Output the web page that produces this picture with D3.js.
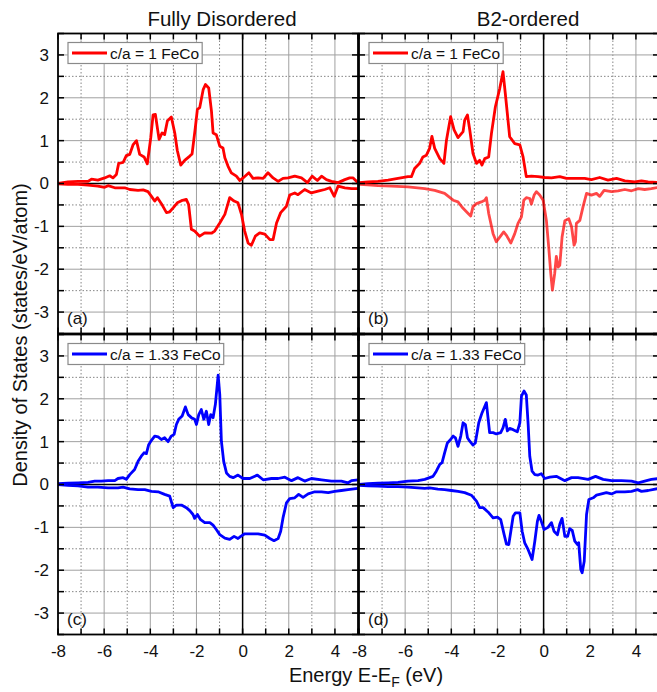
<!DOCTYPE html>
<html>
<head>
<meta charset="utf-8">
<script src="https://cdn.jsdelivr.net/npm/d3@7/dist/d3.min.js"></script>
<style>
  html, body { margin: 0; padding: 0; background: #fff; }
  svg { display: block; font-family: "Liberation Sans", Arial, sans-serif; }
</style>
</head>
<body>
<svg id="chart" width="657" height="692"></svg>
<script>
// ---------------- DATA ----------------
const xTickLabels = [-8, -6, -4, -2, 0, 2, 4];
const yTickLabels = [-3, -2, -1, 0, 1, 2, 3];
const columnTitles = ["Fully Disordered", "B2-ordered"];
const legendLabels = ["c/a = 1 FeCo", "c/a = 1 FeCo", "c/a = 1.33 FeCo", "c/a = 1.33 FeCo"];
const panelLabels = ["(a)", "(b)", "(c)", "(d)"];

// (a) Fully disordered, c/a = 1 : spin up / spin down  [energy eV, DOS]
const aUp = [[-8,0],[-7.57,0.04],[-7.13,0.05],[-6.7,0.05],[-6.55,0.1],[-6.27,0.08],[-5.98,0.13],[-5.76,0.18],[-5.62,0.13],[-5.47,0.21],[-5.37,0.47],[-5.18,0.49],[-5.04,0.65],[-4.89,0.68],[-4.75,0.9],[-4.6,1.0],[-4.46,0.68],[-4.27,0.62],[-4.13,0.46],[-3.98,1.07],[-3.88,1.6],[-3.78,1.61],[-3.62,1.03],[-3.49,1.18],[-3.38,1.14],[-3.26,1.46],[-3.09,1.55],[-2.94,1.18],[-2.83,0.77],[-2.68,0.43],[-2.51,0.54],[-2.29,0.64],[-2.19,0.69],[-2.05,1.3],[-1.96,1.73],[-1.86,1.77],[-1.71,2.19],[-1.61,2.31],[-1.47,2.23],[-1.35,1.69],[-1.28,1.18],[-1.14,1.14],[-0.99,0.87],[-0.85,0.83],[-0.77,0.6],[-0.63,0.4],[-0.49,0.25],[-0.27,0.17],[-0.12,0.07],[0.02,0.13],[0.27,0.25],[0.45,0.12],[0.67,0.13],[0.89,0.12],[1.1,0.25],[1.32,0.13],[1.54,0.05],[1.75,0.12],[1.97,0.13],[2.26,0.17],[2.55,0.13],[2.81,0.02],[3.01,0.17],[3.24,0.07],[3.42,0.17],[3.63,0.09],[3.85,0.05],[4.14,0.02],[4.43,0.09],[4.64,0.13],[4.79,0.13],[5.0,0.02]];
const aDn = [[-8,-0.01],[-7.57,-0.02],[-7.13,-0.02],[-6.7,-0.04],[-6.27,-0.06],[-5.98,-0.09],[-5.83,-0.05],[-5.54,-0.1],[-5.11,-0.1],[-4.89,-0.14],[-4.53,-0.16],[-4.31,-0.15],[-4.1,-0.19],[-3.95,-0.3],[-3.81,-0.41],[-3.69,-0.33],[-3.52,-0.47],[-3.3,-0.68],[-3.16,-0.66],[-3.01,-0.57],[-2.83,-0.45],[-2.65,-0.4],[-2.44,-0.37],[-2.34,-0.49],[-2.22,-1.07],[-2.08,-1.11],[-1.86,-1.23],[-1.64,-1.15],[-1.35,-1.16],[-1.21,-1.11],[-0.99,-0.92],[-0.77,-0.72],[-0.56,-0.33],[-0.37,-0.41],[-0.2,-0.45],[-0.05,-0.72],[0.09,-1.11],[0.24,-1.39],[0.38,-1.44],[0.55,-1.23],[0.74,-1.15],[0.96,-1.18],[1.18,-1.31],[1.32,-1.31],[1.47,-0.92],[1.65,-0.68],[1.9,-0.53],[2.04,-0.27],[2.26,-0.22],[2.4,-0.26],[2.69,-0.14],[2.98,-0.22],[3.27,-0.18],[3.56,-0.14],[3.78,-0.1],[3.97,-0.3],[4.14,-0.06],[4.43,-0.1],[4.72,-0.12],[5.0,-0.12]];

// (b) B2-ordered, c/a = 1
const bUp = [[-8,0.02],[-7.61,0.04],[-7.18,0.05],[-6.74,0.08],[-6.31,0.12],[-5.88,0.16],[-5.73,0.16],[-5.59,0.35],[-5.37,0.47],[-5.23,0.62],[-5.08,0.66],[-4.94,0.82],[-4.84,1.1],[-4.72,0.82],[-4.5,0.58],[-4.32,0.47],[-4.21,1.01],[-4.03,1.56],[-3.88,1.25],[-3.71,1.07],[-3.49,1.21],[-3.42,1.48],[-3.3,1.6],[-3.2,1.25],[-3.06,0.7],[-2.91,0.47],[-2.77,0.54],[-2.67,0.43],[-2.55,0.58],[-2.38,0.62],[-2.26,1.17],[-2.09,1.79],[-1.9,2.22],[-1.76,2.61],[-1.66,2.1],[-1.47,1.09],[-1.25,0.93],[-1.03,0.9],[-0.89,0.62],[-0.75,0.16],[-0.53,0.17],[-0.24,0.16],[0.05,0.14],[0.34,0.13],[0.7,0.16],[0.99,0.12],[1.35,0.12],[1.78,0.12],[2.07,0.09],[2.43,0.14],[2.79,0.08],[3.16,0.12],[3.52,0.06],[3.95,0.04],[4.24,0.06],[4.53,0.04],[5.0,0.02]];
const bDn = [[-8,-0.02],[-7.61,-0.03],[-7.18,-0.05],[-6.6,-0.06],[-5.88,-0.08],[-5.15,-0.12],[-4.72,-0.16],[-4.29,-0.23],[-3.92,-0.39],[-3.71,-0.43],[-3.49,-0.58],[-3.27,-0.7],[-3.16,-0.76],[-3.06,-0.54],[-2.91,-0.47],[-2.7,-0.43],[-2.55,-0.39],[-2.48,-0.33],[-2.38,-0.7],[-2.19,-1.17],[-2.05,-1.36],[-1.9,-1.25],[-1.73,-1.13],[-1.61,-1.21],[-1.42,-1.39],[-1.25,-1.17],[-1.11,-0.93],[-0.96,-0.78],[-0.86,-0.39],[-0.75,-0.33],[-0.6,-0.35],[-0.53,-0.48],[-0.41,-0.27],[-0.31,-0.19],[-0.17,-0.27],[-0.02,-0.39],[0.12,-0.86],[0.22,-1.48],[0.31,-2.1],[0.38,-2.49],[0.48,-2.1],[0.55,-1.7],[0.63,-1.95],[0.7,-1.91],[0.8,-1.25],[0.92,-0.87],[1.09,-0.82],[1.21,-1.01],[1.32,-1.44],[1.38,-1.36],[1.42,-0.93],[1.57,-0.86],[1.71,-0.54],[1.86,-0.23],[2.07,-0.27],[2.29,-0.23],[2.43,-0.3],[2.62,-0.16],[2.94,-0.19],[3.23,-0.17],[3.52,-0.14],[3.81,-0.17],[4.1,-0.12],[4.38,-0.14],[4.67,-0.12],[5.0,-0.09]];

// (c) Fully disordered, c/a = 1.33
const cUp = [[-8,0.02],[-7.57,0.03],[-7.13,0.04],[-6.7,0.05],[-6.41,0.08],[-6.12,0.08],[-5.83,0.09],[-5.54,0.09],[-5.4,0.14],[-5.18,0.16],[-5.04,0.12],[-4.89,0.23],[-4.68,0.35],[-4.53,0.54],[-4.39,0.66],[-4.27,0.74],[-4.17,0.72],[-4.07,0.93],[-3.95,1.03],[-3.81,1.13],[-3.66,1.11],[-3.52,1.05],[-3.38,1.09],[-3.23,1.0],[-3.09,1.13],[-2.97,1.17],[-2.87,1.4],[-2.77,1.52],[-2.62,1.6],[-2.48,1.81],[-2.36,1.63],[-2.22,1.56],[-2.08,1.52],[-2.0,1.4],[-1.9,1.63],[-1.79,1.75],[-1.68,1.52],[-1.57,1.71],[-1.47,1.4],[-1.38,1.63],[-1.28,1.56],[-1.18,1.87],[-1.06,2.55],[-0.99,2.1],[-0.92,1.01],[-0.82,0.54],[-0.7,0.27],[-0.56,0.19],[-0.41,0.16],[-0.2,0.22],[0.02,0.14],[0.31,0.14],[0.64,0.22],[0.89,0.11],[1.25,0.14],[1.54,0.14],[1.83,0.17],[2.12,0.09],[2.4,0.16],[2.69,0.08],[2.98,0.14],[3.42,0.11],[3.85,0.08],[4.28,0.08],[4.57,0.04],[4.72,0.09],[5.0,0.11]];
const cDn = [[-8,0],[-7.57,-0.02],[-7.13,-0.03],[-6.7,-0.06],[-6.27,-0.06],[-5.83,-0.08],[-5.4,-0.08],[-5.18,-0.06],[-4.89,-0.1],[-4.53,-0.12],[-4.24,-0.12],[-3.95,-0.16],[-3.66,-0.17],[-3.38,-0.23],[-3.16,-0.27],[-3.01,-0.54],[-2.87,-0.48],[-2.65,-0.48],[-2.44,-0.54],[-2.29,-0.61],[-2.15,-0.7],[-2.08,-0.79],[-1.96,-0.7],[-1.82,-0.82],[-1.64,-0.89],[-1.42,-0.89],[-1.28,-0.95],[-1.14,-1.05],[-0.99,-1.17],[-0.77,-1.25],[-0.56,-1.28],[-0.37,-1.21],[-0.2,-1.26],[-0.08,-1.21],[0.09,-1.15],[0.38,-1.15],[0.67,-1.15],[0.96,-1.18],[1.18,-1.26],[1.36,-1.31],[1.54,-1.26],[1.65,-1.09],[1.75,-0.78],[1.9,-0.43],[2.04,-0.33],[2.26,-0.31],[2.43,-0.23],[2.62,-0.3],[2.84,-0.22],[3.13,-0.17],[3.42,-0.17],[3.71,-0.19],[3.99,-0.16],[4.28,-0.14],[4.57,-0.12],[5.0,-0.09]];

// (d) B2-ordered, c/a = 1.33
const dUp = [[-8,0],[-7.61,0.02],[-7.18,0.03],[-6.74,0.04],[-6.31,0.05],[-5.88,0.08],[-5.44,0.09],[-5.15,0.12],[-4.94,0.16],[-4.79,0.19],[-4.65,0.31],[-4.5,0.47],[-4.4,0.51],[-4.29,0.74],[-4.17,0.97],[-4.03,1.05],[-3.92,1.13],[-3.82,1.09],[-3.71,0.89],[-3.59,1.13],[-3.49,1.44],[-3.39,1.4],[-3.3,1.09],[-3.2,1.01],[-3.06,0.92],[-2.96,0.97],[-2.81,1.44],[-2.67,1.67],[-2.48,1.91],[-2.41,1.56],[-2.34,1.21],[-2.19,1.21],[-2.05,1.18],[-1.86,1.21],[-1.76,1.32],[-1.66,1.52],[-1.57,1.25],[-1.47,1.31],[-1.32,1.28],[-1.14,1.23],[-1.03,1.44],[-0.96,2.06],[-0.85,2.18],[-0.75,2.09],[-0.67,1.4],[-0.6,0.66],[-0.5,0.31],[-0.38,0.23],[-0.24,0.22],[-0.1,0.25],[0.05,0.14],[0.27,0.17],[0.55,0.19],[0.92,0.09],[1.21,0.16],[1.49,0.16],[1.93,0.12],[2.25,0.19],[2.58,0.12],[2.94,0.09],[3.37,0.09],[3.81,0.08],[4.1,0.04],[4.38,0.08],[4.67,0.12],[5.0,0.14]];
const dDn = [[-8,-0.02],[-7.61,-0.03],[-7.18,-0.04],[-6.74,-0.05],[-6.31,-0.05],[-5.88,-0.06],[-5.44,-0.08],[-5.15,-0.09],[-4.94,-0.08],[-4.58,-0.11],[-4.29,-0.12],[-4.0,-0.14],[-3.71,-0.16],[-3.42,-0.19],[-3.13,-0.25],[-2.91,-0.39],[-2.77,-0.54],[-2.62,-0.54],[-2.41,-0.64],[-2.19,-0.78],[-2.0,-0.76],[-1.86,-0.82],[-1.71,-1.17],[-1.61,-1.39],[-1.51,-1.4],[-1.42,-1.09],[-1.32,-0.74],[-1.22,-0.66],[-1.03,-0.66],[-0.93,-1.09],[-0.82,-1.36],[-0.67,-1.52],[-0.5,-1.75],[-0.38,-1.32],[-0.27,-0.86],[-0.2,-0.72],[-0.1,-0.86],[0.02,-1.05],[0.19,-1.0],[0.34,-0.89],[0.45,-1.09],[0.6,-1.17],[0.7,-0.93],[0.8,-0.79],[0.92,-1.21],[1.04,-1.21],[1.13,-1.03],[1.24,-1.07],[1.35,-1.32],[1.47,-1.4],[1.52,-1.36],[1.61,-1.98],[1.67,-2.06],[1.76,-1.79],[1.86,-0.7],[1.96,-0.35],[2.15,-0.31],[2.29,-0.25],[2.51,-0.22],[2.72,-0.19],[2.94,-0.22],[3.16,-0.17],[3.52,-0.17],[3.81,-0.16],[4.07,-0.12],[4.24,-0.16],[4.53,-0.14],[5.0,-0.09]];

// ---------------- LAYOUT ----------------
const svg = d3.select("#chart");
const W = 300, H = 300;
const colX = [58, 359];
const rowY = [33.5, 334.5];

const x = d3.scaleLinear().domain([-8, 5]).range([0, W]);
const y = d3.scaleLinear().domain([-3.5, 3.5]).range([H, 0]);

const panels = [
  { col: 0, row: 0, up: aUp, dn: aDn, color: "#ff0000", dnOpacity: 1 },
  { col: 1, row: 0, up: bUp, dn: bDn, color: "#ff0000", dnOpacity: 0.72 },
  { col: 0, row: 1, up: cUp, dn: cDn, color: "#0000ff", dnOpacity: 1 },
  { col: 1, row: 1, up: dUp, dn: dDn, color: "#0000ff", dnOpacity: 1 }
];

const xMajor = [-6, -4, -2, 2, 4];
const xMinor = [-7, -5, -3, -1, 1, 3];
const yMajor = [-3, -2, -1, 1, 2, 3];
const yMinor = [-2.5, -1.5, -0.5, 0.5, 1.5, 2.5];
const yTickAll = d3.range(-3.5, 3.51, 0.5);
const xTickAll = d3.range(-8, 5.01, 1);

const line = d3.line().x(d => x(d[0])).y(d => y(d[1]));

const defs = svg.append("defs");

panels.forEach((p, i) => {
  const g = svg.append("g").attr("transform", `translate(${colX[p.col]},${rowY[p.row]})`);
  defs.append("clipPath").attr("id", "clip" + i)
    .append("rect").attr("x", 0).attr("y", 0).attr("width", W).attr("height", H);

  // grid
  const grid = g.append("g");
  grid.selectAll(".gxM").data(xMajor).join("line")
    .attr("x1", d => x(d)).attr("x2", d => x(d)).attr("y1", 0).attr("y2", H)
    .attr("stroke", "#a0a0a0").attr("stroke-width", 1);
  grid.selectAll(".gxm").data(xMinor).join("line")
    .attr("x1", d => x(d)).attr("x2", d => x(d)).attr("y1", 0).attr("y2", H)
    .attr("stroke", "#858585").attr("stroke-width", 1).attr("stroke-dasharray", "1.5,2");
  grid.selectAll(".gyM").data(yMajor).join("line")
    .attr("x1", 0).attr("x2", W).attr("y1", d => y(d)).attr("y2", d => y(d))
    .attr("stroke", "#a0a0a0").attr("stroke-width", 1);
  grid.selectAll(".gym").data(yMinor).join("line")
    .attr("x1", 0).attr("x2", W).attr("y1", d => y(d)).attr("y2", d => y(d))
    .attr("stroke", "#858585").attr("stroke-width", 1).attr("stroke-dasharray", "1.5,2");

  // zero lines
  g.append("line").attr("x1", x(0)).attr("x2", x(0)).attr("y1", 0).attr("y2", H)
    .attr("stroke", "#000").attr("stroke-width", 1.5);
  g.append("line").attr("x1", 0).attr("x2", W).attr("y1", y(0)).attr("y2", y(0))
    .attr("stroke", "#000").attr("stroke-width", 1.5);

  // curves
  const cg = g.append("g").attr("clip-path", `url(#clip${i})`);
  cg.append("path").datum(p.dn).attr("d", line).attr("fill", "none")
    .attr("stroke", p.color).attr("stroke-opacity", p.dnOpacity)
    .attr("stroke-width", 2.8).attr("stroke-linejoin", "round");
  cg.append("path").datum(p.up).attr("d", line).attr("fill", "none")
    .attr("stroke", p.color).attr("stroke-width", 2.8).attr("stroke-linejoin", "round");

  // ticks (inward)
  const tk = g.append("g").attr("stroke", "#000").attr("stroke-width", 1.5);
  tk.selectAll(".tl").data(yTickAll).join("line")
    .attr("x1", 0).attr("x2", 6).attr("y1", d => y(d)).attr("y2", d => y(d));
  tk.selectAll(".tr").data(yTickAll).join("line")
    .attr("x1", W - 6).attr("x2", W).attr("y1", d => y(d)).attr("y2", d => y(d));
  tk.selectAll(".tb").data(xTickAll).join("line")
    .attr("x1", d => x(d)).attr("x2", d => x(d)).attr("y1", H - 6).attr("y2", H);
  tk.selectAll(".tt").data(xTickAll).join("line")
    .attr("x1", d => x(d)).attr("x2", d => x(d)).attr("y1", 0).attr("y2", 6);

  // frame
  g.append("rect").attr("x", 0).attr("y", 0).attr("width", W).attr("height", H)
    .attr("fill", "none").attr("stroke", "#000").attr("stroke-width", 1.8);

  // y axis labels (left column)
  if (p.col === 0) {
    const yAxis = d3.axisLeft(y).tickValues(yTickLabels).tickSize(0).tickPadding(9)
      .tickFormat(d => String(d));
    const ya = g.append("g").call(yAxis);
    ya.select(".domain").remove();
    ya.selectAll("text").attr("font-size", 17).attr("fill", "#111")
      .attr("font-family", "'Liberation Sans', Arial, sans-serif");
  }
  // x axis labels (bottom row)
  if (p.row === 1) {
    const xAxis = d3.axisBottom(x).tickValues(xTickLabels).tickSize(0).tickPadding(10)
      .tickFormat(d => String(d));
    const xa = g.append("g").attr("transform", `translate(0,${H})`).call(xAxis);
    xa.select(".domain").remove();
    xa.selectAll("text").attr("font-size", 17).attr("fill", "#111")
      .attr("font-family", "'Liberation Sans', Arial, sans-serif");
  }

  // legend
  const lg = g.append("g").attr("transform", "translate(10,9)");
  const lbox = lg.append("rect").attr("x", 0).attr("y", 0).attr("height", 21)
    .attr("fill", "#fff").attr("stroke", "#8a8a8a").attr("stroke-width", 1.2);
  lg.append("line").attr("x1", 4).attr("x2", 39).attr("y1", 10.5).attr("y2", 10.5)
    .attr("stroke", p.color).attr("stroke-width", 2.8);
  const lt = lg.append("text").attr("x", 42).attr("y", 16).attr("font-size", 15.5)
    .attr("fill", "#111").text(legendLabels[i]);
  const tw = lt.node().getComputedTextLength();
  lbox.attr("width", 42 + tw + 3);

  // panel label
  g.append("text").attr("x", 9).attr("y", H - 10).attr("font-size", 17)
    .attr("fill", "#111").text(panelLabels[i]);
});

// column titles
svg.append("text").attr("x", 222).attr("y", 26).attr("text-anchor", "middle")
  .attr("font-size", 20.5).attr("fill", "#111").text(columnTitles[0]);
svg.append("text").attr("x", 528).attr("y", 26).attr("text-anchor", "middle")
  .attr("font-size", 20.5).attr("fill", "#111").text(columnTitles[1]);

// axis titles
svg.append("text").attr("transform", "translate(27,335) rotate(-90)")
  .attr("text-anchor", "middle").attr("font-size", 20).attr("fill", "#111")
  .text("Density of States (states/eV/atom)");

const xl = svg.append("text").attr("x", 366).attr("y", 682).attr("text-anchor", "middle")
  .attr("font-size", 20).attr("fill", "#111");
xl.append("tspan").text("Energy E-E");
xl.append("tspan").attr("font-size", 14).attr("dy", 5).text("F");
xl.append("tspan").attr("dy", -5).text(" (eV)");
</script>
</body>
</html>
